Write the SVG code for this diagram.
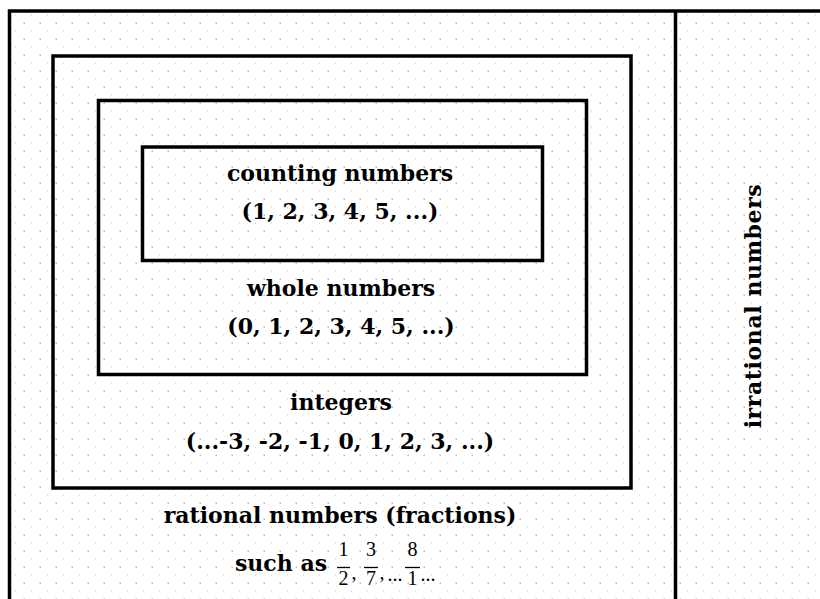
<svg xmlns="http://www.w3.org/2000/svg" width="820" height="599" viewBox="0 0 820 599">
<defs>
<pattern id="dots" x="0" y="0" width="16" height="16" patternUnits="userSpaceOnUse">
<rect x="7.5" y="6.5" width="1.5" height="1.5" fill="#bdbdbd"/>
<rect x="15.5" y="14.5" width="1.5" height="1.5" fill="#bdbdbd"/>
</pattern>
<style>
.frame{fill:none;stroke:#000;stroke-width:3.5}
.lbl{font-family:"DejaVu Serif","Liberation Serif",serif;font-weight:bold;font-size:22px;fill:#000;text-anchor:middle}
.frac{font-family:"Liberation Serif","DejaVu Serif",serif;font-size:20px;fill:#000;text-anchor:middle}
.fl{stroke:#000;stroke-width:1.3}
</style>
</defs>
<rect width="820" height="599" fill="#fff"/>
<rect x="9" y="11" width="811" height="588" fill="url(#dots)"/>
<g id="universe">
<path class="frame" d="M9.5 599 V11 H820"/>
<line class="frame" x1="675.5" y1="11" x2="675.5" y2="599"/>
</g>
<g id="rational">
<rect class="frame" x="53" y="56" width="578" height="432"/>
<text class="lbl" x="340" y="523">rational numbers (fractions)</text>
<text class="lbl" x="281" y="571">such as</text>
<text class="frac" x="343.5" y="556">1</text>
<line class="fl" x1="337" y1="567.5" x2="350" y2="567.5"/>
<text class="frac" x="343.5" y="585">2</text>
<text class="frac" x="354" y="579">,</text>
<text class="frac" x="371" y="556">3</text>
<line class="fl" x1="364" y1="567.5" x2="378" y2="567.5"/>
<text class="frac" x="371" y="585">7</text>
<text class="frac" x="382" y="579">,</text>
<text class="frac" x="395" y="581">...</text>
<text class="frac" x="412.5" y="556">8</text>
<line class="fl" x1="405" y1="567.5" x2="420" y2="567.5"/>
<text class="frac" x="412.5" y="585">1</text>
<text class="frac" x="428" y="581">...</text>
</g>
<g id="integers">
<rect class="frame" x="98.5" y="100.5" width="488" height="274"/>
<text class="lbl" x="341" y="410">integers</text>
<text class="lbl" x="340" y="449">(...-3, -2, -1, 0, 1, 2, 3, ...)</text>
</g>
<g id="whole">
<text class="lbl" x="341" y="296">whole numbers</text>
<text class="lbl" x="341" y="334">(0, 1, 2, 3, 4, 5, ...)</text>
</g>
<g id="counting">
<rect class="frame" x="142.5" y="147" width="400" height="113.5"/>
<text class="lbl" x="340" y="181">counting numbers</text>
<text class="lbl" x="340" y="219">(1, 2, 3, 4, 5, ...)</text>
</g>
<g id="irrational">
<text class="lbl" style="letter-spacing:0.6px" transform="translate(761 306) rotate(-90)" x="0" y="0">irrational numbers</text>
</g>
</svg>
